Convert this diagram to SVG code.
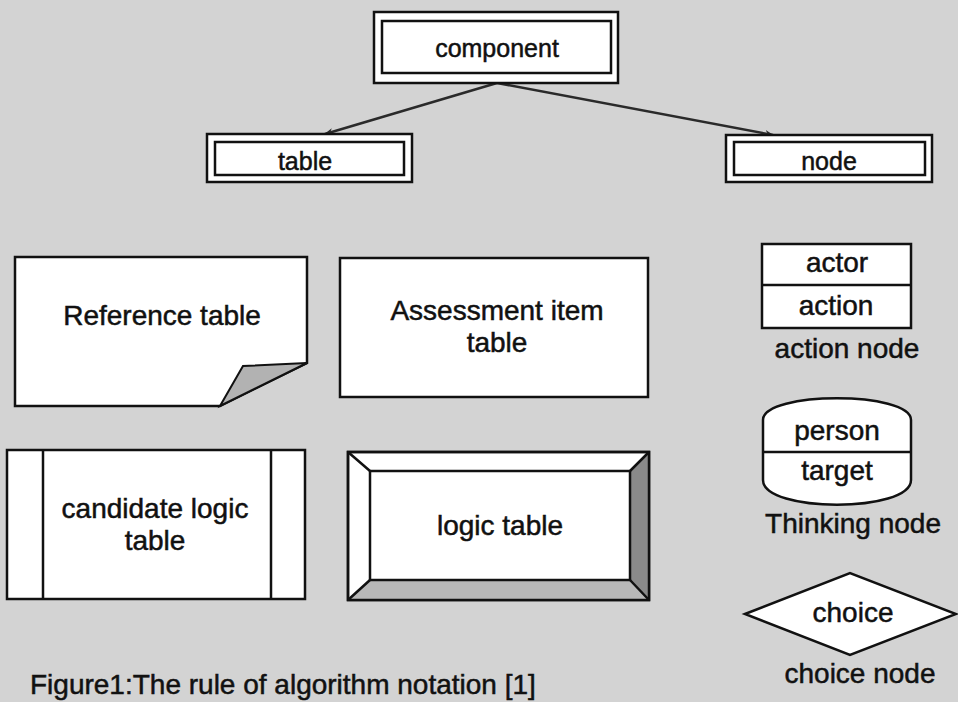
<svg xmlns="http://www.w3.org/2000/svg" width="958" height="702" viewBox="0 0 958 702">
<defs>
<style>
.bg{fill:#d3d3d3}
.box{fill:#fff;stroke:#111;stroke-width:2.5}
.ln{fill:none;stroke:#111;stroke-width:2.5}
.t{font-family:"Liberation Sans",Arial,sans-serif;fill:#111;stroke:#111;stroke-width:0.5;text-anchor:middle}
.s25{font-size:25px}
.s28{font-size:28px}
.conn{fill:none;stroke:#2a2a2a;stroke-width:2.5}
</style>
<marker id="arr" viewBox="0 0 10 10" refX="9" refY="5" markerWidth="9" markerHeight="9" orient="auto" markerUnits="userSpaceOnUse">
<path d="M0,1 L10,5 L0,9 L3,5 Z" fill="#2a2a2a"/>
</marker>
</defs>
<rect class="bg" x="0" y="0" width="958" height="702"/>

<g id="connectors">
<line class="conn" x1="497" y1="83" x2="325" y2="134" marker-end="url(#arr)"/>
<line class="conn" x1="497" y1="83" x2="773" y2="135" marker-end="url(#arr)"/>
</g>

<g id="component">
<rect class="box" x="374" y="12" width="244" height="71"/>
<rect class="box" x="382" y="21" width="229" height="52"/>
<text class="t s25" x="497" y="57">component</text>
</g>

<g id="table">
<rect class="box" x="207" y="134" width="205" height="48"/>
<rect class="box" x="215" y="142" width="189" height="33"/>
<text class="t s25" x="305" y="170">table</text>
</g>

<g id="node">
<rect class="box" x="726" y="135" width="206" height="47"/>
<rect class="box" x="734" y="142" width="191" height="33"/>
<text class="t s25" x="829" y="170">node</text>
</g>

<g id="reference-table">
<path class="box" d="M15,257 H307 V363 L220,406 H15 Z"/>
<path d="M220,406 L243,366 L307,363 Z" fill="#b2b2b2" stroke="#111" stroke-width="2"/>
<text class="t s28" x="162" y="325">Reference table</text>
</g>

<g id="assessment-item-table">
<rect class="box" x="340" y="258" width="308" height="139"/>
<text class="t s28" x="497" y="320">Assessment item</text>
<text class="t s28" x="497" y="352">table</text>
</g>

<g id="action-node">
<rect class="box" x="762" y="244" width="149" height="84"/>
<line class="ln" x1="762" y1="285" x2="911" y2="285"/>
<text class="t s28" x="837" y="272">actor</text>
<text class="t s28" x="836" y="315">action</text>
<text class="t s28" x="847" y="358">action node</text>
</g>

<g id="thinking-node">
<path class="box" d="M763,420 C763,391 911,391 911,420 L911,480 C911,513 763,513 763,480 Z"/>
<line class="ln" x1="763" y1="452" x2="911" y2="452"/>
<text class="t s28" x="837" y="440">person</text>
<text class="t s28" x="837" y="480">target</text>
<text class="t s28" x="853" y="533">Thinking node</text>
</g>

<g id="candidate-logic-table">
<rect class="box" x="7" y="450" width="298" height="149"/>
<line class="ln" x1="43" y1="450" x2="43" y2="599"/>
<line class="ln" x1="271" y1="450" x2="271" y2="599"/>
<text class="t s28" x="155" y="518">candidate logic</text>
<text class="t s28" x="155" y="550">table</text>
</g>

<g id="logic-table">
<rect class="box" x="348" y="452" width="301" height="148"/>
<polygon points="649,452 649,600 630,580 630,471" fill="#8a8a8a"/>
<polygon points="348,600 649,600 630,580 370,580" fill="#b8b8b8"/>
<rect x="348" y="452" width="301" height="148" fill="none" stroke="#111" stroke-width="2.5"/>
<rect class="box" x="370" y="471" width="260" height="109"/>
<path class="ln" stroke-width="1.5" d="M348,452 L370,471 M649,452 L630,471 M649,600 L630,580 M348,600 L370,580"/>
<text class="t s28" x="500" y="535">logic table</text>
</g>

<g id="choice-node">
<polygon class="box" points="745,614 850,573 956,614 850,655"/>
<text class="t s28" x="853" y="622">choice</text>
<text class="t s28" x="860" y="683">choice node</text>
</g>

<text class="t" style="font-size:28px;text-anchor:start" x="30" y="694">Figure1:The rule of algorithm notation [1]</text>
</svg>
